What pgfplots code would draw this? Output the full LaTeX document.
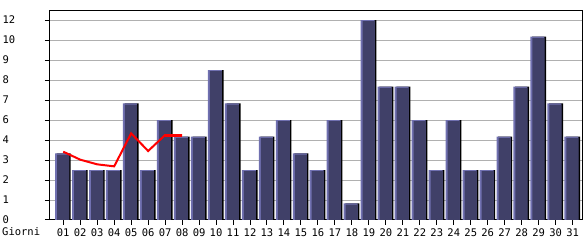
\documentclass[border=0pt]{standalone}
\usepackage{fontspec}
\setmonofont{DejaVu Sans Mono}
\usepackage{pgfplots}
\pgfplotsset{compat=1.18}
\usepackage{pgfplotstable}
\definecolor{barfill}{RGB}{64,64,104}
\definecolor{baredge}{RGB}{112,112,176}
\definecolor{gridc}{RGB}{176,176,176}
\pgfplotstableread{
d v
1 4
2 3
3 3
4 3
5 7
6 3
7 6
8 5
9 5
10 9
11 7
12 3
13 5
14 6
15 4
16 3
17 6
18 1
19 12
20 8
21 8
22 6
23 3
24 6
25 3
26 3
27 5
28 8
29 11
30 7
31 5
}\bars
\begin{document}
\begin{tikzpicture}
\useasboundingbox (-50pt,-20pt) rectangle (535pt,220pt);
\begin{axis}[
 at={(0,0)}, anchor=south west,
 scale only axis, width=532.3pt, height=209.3pt,
 xmin=0.22, xmax=31.57, ymin=0, ymax=12.56,
 xtick={1,...,31},
 xticklabels={01,02,03,04,05,06,07,08,09,10,11,12,13,14,15,16,17,18,19,20,21,22,23,24,25,26,27,28,29,30,31},
 ytick={0,1.2,2.4,3.6,4.8,6,7.2,8.4,9.6,10.8,12},
 yticklabels={0,1,2,3,4,6,7,8,9,10,12},
 ymajorgrids, grid style={gridc, line width=1pt},
 tick align=outside, major tick length=5pt,
 xtick pos=bottom, ytick pos=left,
 tick style={black, line width=1pt},
 axis line style={line width=1pt},
 ticklabel style={font=\fontsize{10.5}{10.5}\selectfont\ttfamily},
 yticklabel style={anchor=west, xshift=-46pt},
 clip=false,
]
\addplot[ybar, bar width=14pt, bar shift=0.5pt, fill=black, draw=none] table[x=d,y=v]{\bars};
\addplot[ybar, bar width=14pt, bar shift=-1.2pt, fill=baredge, draw=none] table[x=d,y=v]{\bars};
\addplot[ybar, bar width=12pt, bar shift=-0.2pt, fill=barfill, draw=none] table[x=d,y expr=\thisrow{v}-0.07]{\bars};
\addplot[red, line width=2pt] coordinates {(1,4.1) (2,3.62) (3,3.34) (4,3.22) (5,5.2) (6,4.14) (7,5.1) (8,5.1)};
\addplot[red, line width=3pt] coordinates {(7,5.1) (8,5.1)};
\node[anchor=base west, font=\fontsize{10.5}{10.5}\selectfont\ttfamily, inner sep=0pt] at ([xshift=-48pt,yshift=-15.3pt]rel axis cs:0,0) {Giorni};
\end{axis}
\end{tikzpicture}
\end{document}
